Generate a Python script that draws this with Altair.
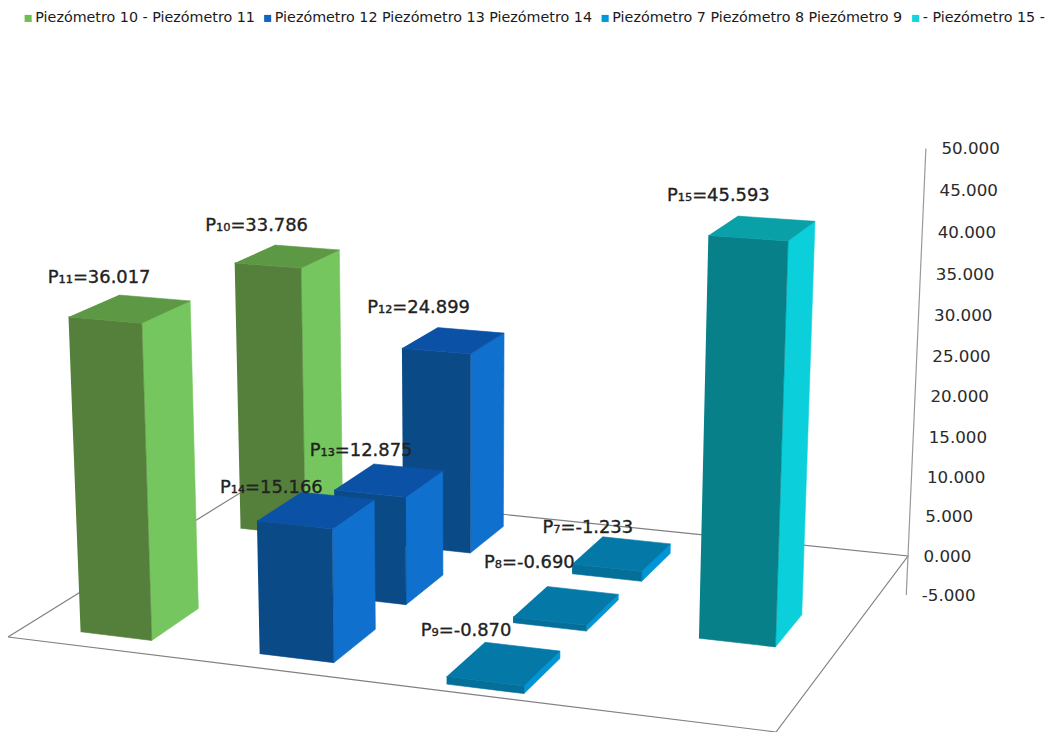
import altair as alt
import numpy as np
import pandas as pd

# Piezometer readings laid out on a 4 x 3 floor grid (column, depth row).
piezometers = ["P₁₁", "P₁₀", "P₁₄", "P₁₃", "P₁₂", "P₉", "P₈", "P₇", "P₁₅"]
readings = [36.017, 33.786, 15.166, 12.875, 24.899, -0.870, -0.690, -1.233, 45.593]
columns = [0, 0, 1, 1, 1, 2, 2, 2, 3]
rows = [0, 2, 0, 1, 2, 0, 1, 2, 1]
groups = ["g", "g", "b", "b", "b", "t", "t", "t", "c"]

series_names = [
    "Piezómetro 10 - Piezómetro 11",
    "Piezómetro 12 Piezómetro 13 Piezómetro 14",
    "Piezómetro 7 Piezómetro 8 Piezómetro 9",
    "- Piezómetro 15 -",
]
series_colors = ["#6cc04f", "#1565c0", "#0099d8", "#12d4dc"]
axis_ticks = [-5, 0, 5, 10, 15, 20, 25, 30, 35, 40, 45, 50]

SHADES = {
    "g": {"front": "#55803b", "side": "#76c65f", "top": "#5d9944"},
    "b": {"front": "#0a4a86", "side": "#1070ce", "top": "#0b52a6"},
    "t": {"front": "#046f98", "side": "#0095d6", "top": "#0479a8"},
    "c": {"front": "#078089", "side": "#0bd0dc", "top": "#0aa0a8"},
}

# Camera: floor corners on the page plus the vanishing point of the vertical direction.
FLOOR = {(0, 0): (8, 637), (1, 0): (776, 732), (1, 1): (908, 556), (0, 1): (248, 488)}
VANISH = (465.0, 10650.0)
BAR_W, BAR_D = 0.40, 0.56
COL_SHIFT = [0.006, 0.0, -0.005, -0.005]
ROW_SHIFT = -0.017


def floor_matrix():
    a, b = [], []
    for (u, v), (x, y) in FLOOR.items():
        a.append([u, v, 1, 0, 0, 0, -u * x, -v * x])
        a.append([0, 0, 0, u, v, 1, -u * y, -v * y])
        b += [x, y]
    h = np.linalg.solve(np.array(a, float), np.array(b, float))
    return np.append(h, 1.0).reshape(3, 3)


H = floor_matrix()
w_corner = (H @ np.array([1, 1, 1.0]))[2]
LIFT = -0.0388 / 50 * w_corner


def project(u, v, z):
    p = H @ np.array([u, v, 1.0]) + z * LIFT * np.array([VANISH[0], VANISH[1], 1.0])
    return p[0] / p[2], p[1] / p[2]


# Label offsets from the centre of each bar's top, in page pixels.
label_dx = [-31, -31, -45, -28, -35, -38, -37, -34, -44]
label_dy = [-33, -32, -24, -31, -35, -35, -45, -28, -34]

poly_rows, label_rows = [], []
order = sorted(range(len(readings)), key=lambda i: (-rows[i], columns[i]))
for draw, i in enumerate(order):
    cu = columns[i] + 0.5 + COL_SHIFT[columns[i]]
    cv = rows[i] + 0.5 + ROW_SHIFT
    u0, u1 = (cu - BAR_W / 2) / 4, (cu + BAR_W / 2) / 4
    v0, v1 = (cv - BAR_D / 2) / 3, (cv + BAR_D / 2) / 3
    hi, lo = max(readings[i], 0), min(readings[i], 0)
    faces = {
        "side": [(u1, v0, hi), (u1, v1, hi), (u1, v1, lo), (u1, v0, lo)],
        "front": [(u0, v0, hi), (u1, v0, hi), (u1, v0, lo), (u0, v0, lo)],
        "top": [(u0, v0, hi), (u1, v0, hi), (u1, v1, hi), (u0, v1, hi)],
    }
    for name, corners in faces.items():
        for k, c in enumerate(corners):
            x, y = project(*c)
            poly_rows.append(
                {"face": f"{draw:02d}-{name}", "k": k, "x": x, "y": y,
                 "shade": SHADES[groups[i]][name]}
            )
    cx, cy = project((u0 + u1) / 2, (v0 + v1) / 2, hi)
    label_rows.append(
        {"x": cx + label_dx[i], "y": cy + label_dy[i],
         "text": f"{piezometers[i]}={readings[i]:.3f}"}
    )

x_scale = alt.Scale(domain=[0, 1055], nice=False, zero=False)
y_scale = alt.Scale(domain=[732, 0], nice=False, zero=False)
X = alt.X("x:Q", scale=x_scale, axis=None)
Y = alt.Y("y:Q", scale=y_scale, axis=None)

# Floor outline and the slanted value axis behind the bars.
outline = [(0, 0), (1, 0), (1, 1), (0, 1), (0, 0)]
floor_df = pd.DataFrame(
    [{"k": k, "x": project(u, v, 0)[0], "y": project(u, v, 0)[1]} for k, (u, v) in enumerate(outline)]
)
floor = alt.Chart(floor_df).mark_line(color="#808080", strokeWidth=1.2).encode(x=X, y=Y, order="k:Q")

axis_ends = [axis_ticks[0], axis_ticks[-1]]
axis_df = pd.DataFrame(
    [{"k": k, "x": project(1, 1, z)[0], "y": project(1, 1, z)[1]} for k, z in enumerate(axis_ends)]
)
axis_line = alt.Chart(axis_df).mark_line(color="#999999", strokeWidth=1.2).encode(x=X, y=Y, order="k:Q")

tick_df = pd.DataFrame(
    [{"x": project(1, 1, z)[0], "y": project(1, 1, z)[1], "text": f"{z:.3f}"} for z in axis_ticks]
)
tick_labels = alt.Chart(tick_df).mark_text(
    align="left", baseline="middle", dx=15.5, dy=0.5, font="DejaVu Sans", fontSize=16.7, color="#2b2b2b"
).encode(x=X, y=Y, text="text:N")

# Bar faces, painted from the back row forward.
bars = alt.Chart(pd.DataFrame(poly_rows)).mark_line(strokeWidth=0.6).encode(
    x=X,
    y=Y,
    detail="face:N",
    order="k:Q",
    fill=alt.Fill("shade:N", scale=None),
    stroke=alt.Stroke("shade:N", scale=None),
)

value_labels = alt.Chart(pd.DataFrame(label_rows)).mark_text(
    align="center", baseline="middle", dy=2, font="DejaVu Sans", fontSize=17.9,
    color="#222222", stroke="#222222", strokeWidth=0.35
).encode(x=X, y=Y, text="text:N")

# Hidden points that only carry the series legend along the top.
legend_df = pd.DataFrame({"series": series_names, "x": [0] * 4, "y": [0] * 4})
legend_layer = alt.Chart(legend_df).mark_square(opacity=0).encode(
    x=X,
    y=Y,
    color=alt.Color(
        "series:N",
        scale=alt.Scale(domain=series_names, range=series_colors),
        sort=series_names,
        legend=alt.Legend(
            title=None,
            orient="none",
            legendX=21,
            legendY=11,
            direction="horizontal",
            columns=4,
            symbolType="square",
            symbolSize=50,
            symbolOpacity=1,
            symbolStrokeWidth=0,
            labelFont="DejaVu Sans",
            labelFontSize=14.3,
            labelColor="#1a1a1a",
            labelLimit=500,
            labelOffset=0,
            columnPadding=5.5,
        ),
    ),
)

chart = (
    alt.layer(floor, axis_line, bars, tick_labels, value_labels, legend_layer)
    .properties(width=1055, height=732, padding=0, autosize=alt.AutoSizeParams(type="none"))
    .configure_view(stroke=None)
)

chart.save("out.html", embed_options={"renderer": "svg", "actions": False})
